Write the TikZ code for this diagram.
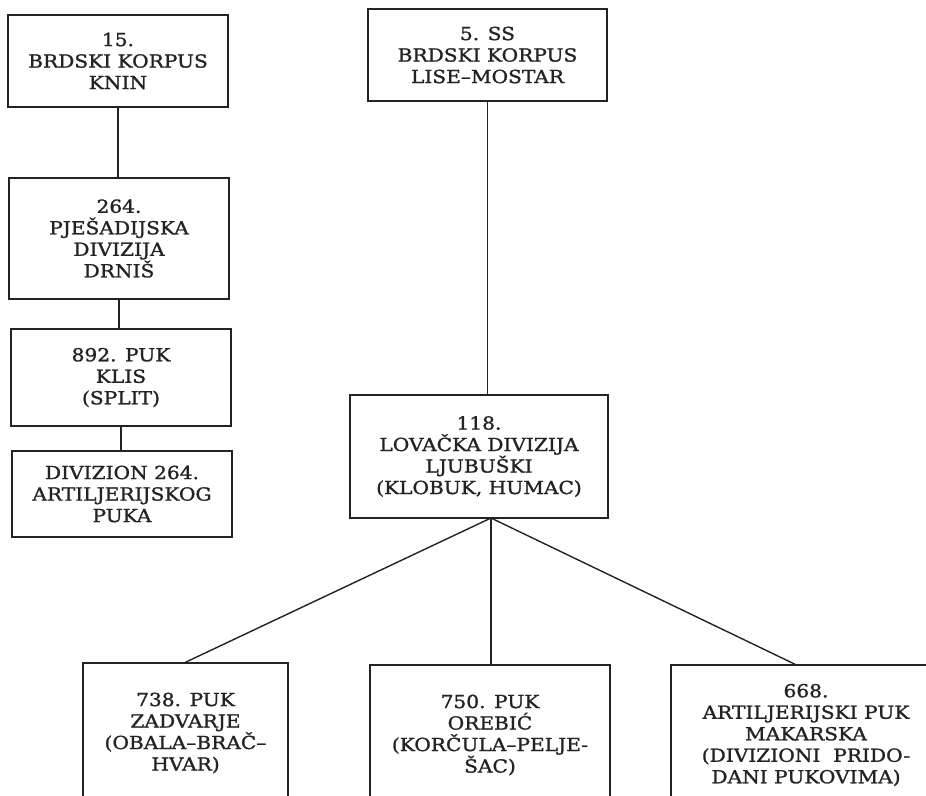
\documentclass[tikz,border=0pt]{standalone}
\usepackage{fontspec}
\setmainfont{DejaVu Serif}[FakeStretch=1.12, FakeBold=1.3]
\definecolor{ink}{HTML}{232323}
\tikzset{
  unitbox/.style={draw=ink, line width=1.5pt, text=ink, align=center, inner sep=0pt,
    font=\fontsize{18}{21.5}\selectfont},
  link/.style={draw=ink, line width=1.4pt}
}
\begin{document}
\begin{tikzpicture}[x=1pt,y=1pt]
\useasboundingbox (0,0) rectangle (926,-795);
\fill[white] (0,0) rectangle (926,-795);
\clip (0,0) rectangle (926,-795);
% left column
\node[unitbox, minimum width=220pt, minimum height=92pt] (k15) at (118,-61) {15.\\BRDSKI KORPUS\\KNIN};
\node[unitbox, minimum width=220pt, minimum height=121pt] (d264) at (119,-238.5) {264.\\PJEŠADIJSKA\\DIVIZIJA\\DRNIŠ};
\node[unitbox, minimum width=220pt, minimum height=97pt] (p892) at (121,-377.5) {892. PUK\\KLIS\\(SPLIT)};
\node[unitbox, minimum width=220pt, minimum height=86pt] (div) at (122,-494) {DIVIZION 264.\\ARTILJERIJSKOG\\PUKA};
% right column
\node[unitbox, minimum width=239pt, minimum height=92pt] (ss5) at (487.5,-55) {5. SS\\BRDSKI KORPUS\\LISE–MOSTAR};
\node[unitbox, minimum width=258pt, minimum height=123pt] (d118) at (479,-456.5) {118.\\LOVAČKA DIVIZIJA\\LJUBUŠKI\\(KLOBUK, HUMAC)};
% bottom row (cut by the page edge)
\node[unitbox, minimum width=205pt, minimum height=140pt] (r738) at (185.5,-733) {738. PUK\\ZADVARJE\\(OBALA–BRAČ–\\HVAR)};
\node[unitbox, minimum width=240pt, minimum height=140pt] (r750) at (490,-735) {750. PUK\\OREBIĆ\\(KORČULA–PELJE-\\ŠAC)};
\node[unitbox, minimum width=270pt, minimum height=140pt] (r668) at (806,-735) {668.\\ARTILJERIJSKI PUK\\MAKARSKA\\(DIVIZIONI\ \ PRIDO-\\DANI PUKOVIMA)};
\coordinate (apex) at (491,-518);
% connectors
\draw[link] (k15.south) -- (k15.south |- d264.north);
\draw[link] (d264.south) -- (d264.south |- p892.north);
\draw[link] (p892.south) -- (p892.south |- div.north);
\draw[link] (ss5.south) -- (ss5.south |- d118.north);
\draw[link] (apex) -- (r738.north);
\draw[link] (apex) -- (apex |- r750.north);
\draw[link] (apex) -- ([xshift=-11pt]r668.north);
\end{tikzpicture}
\end{document}
